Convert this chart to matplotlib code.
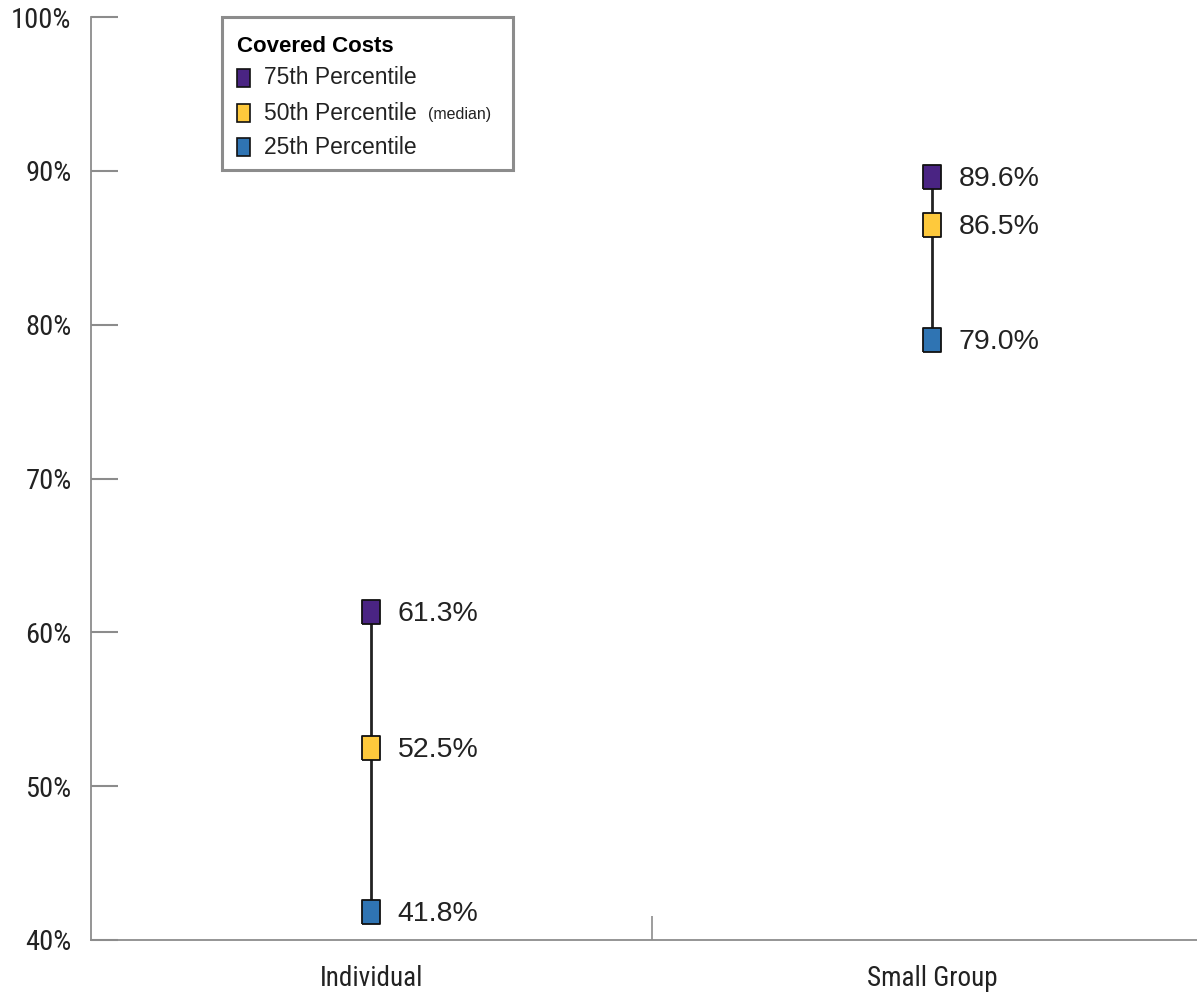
import matplotlib
matplotlib.use("Agg")
import matplotlib.pyplot as plt
from matplotlib.patches import Rectangle

# Covered costs by market, percentile values (%)
categories = ["Individual", "Small Group"]
p75 = [61.3, 89.6]
p50 = [52.5, 86.5]
p25 = [41.8, 79.0]

yticks = [40, 50, 60, 70, 80, 90, 100]
ytick_labels = ["40%", "50%", "60%", "70%", "80%", "90%", "100%"]

legend_title = "Covered Costs"
legend_labels = ["75th Percentile", "50th Percentile", "25th Percentile"]

c_purple = "#4a2483"
c_yellow = "#fec93c"
c_blue = "#2f74b3"
axis_gray = "#8c8c8c"
text_dark = "#222222"

narrow = ["Roboto Condensed", "DejaVu Sans"]
sans = ["Liberation Sans", "DejaVu Sans"]

# tall rectangle marker
rect_marker = [(-0.75, -1), (0.75, -1), (0.75, 1), (-0.75, 1), (-0.75, -1)]

fig = plt.figure(figsize=(11.97, 9.93), dpi=100)
ax = fig.add_axes([91 / 1197, 53 / 993, 1 - 91 / 1197, (940 - 17) / 993])

x = list(range(len(categories)))
for i in x:
    lo, hi = min(p25[i], p75[i]), max(p25[i], p75[i])
    ax.plot([i, i], [lo, hi], color=text_dark, lw=2, zorder=2)
    for val, col in [(p75[i], c_purple), (p50[i], c_yellow), (p25[i], c_blue)]:
        ax.plot(i, val, marker=rect_marker, ms=17.5, mfc=col, mec="#111111",
                mew=1.3, zorder=3, linestyle="none")
        ax.annotate(f"{val:.1f}%", (i, val), xytext=(19, -1.5),
                    textcoords="offset points", va="center", ha="left",
                    fontsize=20.5, color=text_dark, family=sans)

ax.set_xlim(-0.5, 1.472)
ax.set_ylim(40, 100)

ax.set_yticks(yticks)
ax.set_yticklabels(ytick_labels, family=narrow, fontsize=20.5,
                   fontweight="normal", color=text_dark)
ax.tick_params(axis="y", direction="in", length=19.5, width=1.5,
               color=axis_gray, pad=14)

ax.set_xticks(x)
ax.set_xticklabels(categories, family=narrow, fontsize=19.5,
                   fontweight="normal", color=text_dark)
ax.tick_params(axis="x", which="major", length=0, pad=18)
ax.set_xticks([0.5], minor=True)
ax.tick_params(axis="x", which="minor", direction="in", length=17,
               width=1.2, color=axis_gray)

for s in ["top", "right"]:
    ax.spines[s].set_visible(False)
for s in ["left", "bottom"]:
    ax.spines[s].set_color(axis_gray)
    ax.spines[s].set_linewidth(1.3)

# legend box drawn by hand in figure pixels
def fx(px):
    return px / 1197

def fy(py):
    return 1 - py / 993

fig.patches.append(Rectangle((fx(222), fy(170)), fx(513) - fx(222), fy(17) - fy(170),
                             transform=fig.transFigure, facecolor="white",
                             edgecolor=axis_gray, lw=2.2, zorder=5))
fig.text(fx(237), fy(46), legend_title, fontsize=16, fontweight="bold",
         family=sans, color="black", va="center", ha="left", zorder=6)
rows = [(78, c_purple), (113, c_yellow), (147, c_blue)]
for (py, col), lab in zip(rows, legend_labels):
    fig.patches.append(Rectangle((fx(237), fy(py + 9)), fx(13), 18 / 993,
                                 transform=fig.transFigure, facecolor=col,
                                 edgecolor="#111111", lw=1.2, zorder=6))
    fig.text(fx(264), fy(py), lab, fontsize=16.5, family=sans,
             color=text_dark, va="center", ha="left", zorder=6)
    if lab.startswith("50th"):
        fig.text(fx(428), fy(py + 2), "(median)", fontsize=11.5, family=sans,
                 color=text_dark, va="center", ha="left", zorder=6)

fig.savefig("out.png", dpi=100)
